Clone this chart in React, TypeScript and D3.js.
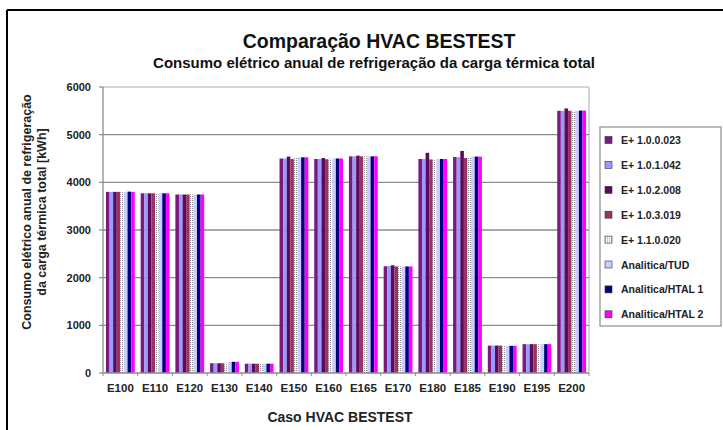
import React from "react";
import * as d3 from "d3";

const categories = ["E100","E110","E120","E130","E140","E150","E160","E165","E170","E180","E185","E190","E195","E200"];
const seriesNames = ["E+ 1.0.0.023","E+ 1.0.1.042","E+ 1.0.2.008","E+ 1.0.3.019","E+ 1.1.0.020","Analitica/TUD","Analitica/HTAL 1","Analitica/HTAL 2"];
const seriesColors = ["#7a1a7a","#9999ff","#5c0a5c","#993366","pattern","#ccccff","#000080","#ff00ff"];
const s1 = [3800,3770,3745,205,195,4500,4490,4545,2240,4490,4530,575,605,5500];
const s2 = [3800,3770,3745,205,195,4500,4490,4545,2245,4490,4530,575,605,5500];
const s3 = [3800,3770,3745,205,195,4540,4510,4560,2260,4620,4660,575,605,5550];
const s4 = [3800,3770,3745,205,195,4490,4485,4545,2235,4480,4510,575,605,5500];
const s5 = [3800,3770,3745,215,195,4520,4500,4545,2235,4490,4530,570,605,5500];
const s6 = [3795,3770,3745,235,195,4525,4500,4545,2235,4490,4540,570,605,5500];
const s7 = [3805,3770,3745,235,195,4525,4500,4545,2235,4490,4540,570,605,5505];
const s8 = [3800,3770,3745,235,195,4525,4500,4545,2235,4490,4540,570,605,5505];
const seriesValues = [s1,s2,s3,s4,s5,s6,s7,s8];
const yTicks = [0,1000,2000,3000,4000,5000,6000];

const FONT = "'Liberation Sans', Arial, sans-serif";

export default function App() {
  const W = 723, H = 430;
  const left = 103, right = 589, top = 87, bottom = 373;
  const x = d3.scaleBand<string>().domain(categories).range([left, right]).paddingInner(0.17).paddingOuter(0.085);
  const xs = d3.scaleBand<number>().domain(d3.range(seriesNames.length)).range([0, x.bandwidth()]);
  const y = d3.scaleLinear().domain([0, 6000]).range([bottom, top]);
  const fill = (i: number) => (seriesColors[i] === "pattern" ? "url(#dots)" : seriesColors[i]);

  return (
    <svg width={W} height={H} style={{ position: "absolute", left: 0, top: 0, background: "#fff" }}>
      <defs>
        <pattern id="dots" width="2" height="2" patternUnits="userSpaceOnUse">
          <rect width="2" height="2" fill="#ffffff" />
          <rect width="1" height="1" fill="#8a8a8a" />
        </pattern>
      </defs>
      <rect x={0} y={0} width={W} height={H} fill="#fff" />
      {/* outer frame */}
      <line x1={7} x2={W} y1={10} y2={10} stroke="#000" strokeWidth={2} />
      <line x1={7} x2={7} y1={10} y2={H} stroke="#000" strokeWidth={2} />

      {/* titles */}
      <text x={379} y={48} textAnchor="middle" fontFamily={FONT} fontWeight="bold" fontSize={19.5} fill="#111">Comparação HVAC BESTEST</text>
      <text x={374} y={68} textAnchor="middle" fontFamily={FONT} fontWeight="bold" fontSize={15} fill="#111">Consumo elétrico anual de refrigeração da carga térmica total</text>

      {/* plot frame */}
      <line x1={left} x2={right} y1={top} y2={top} stroke="#c8c8c8" strokeWidth={1.5} />
      <line x1={right} x2={right} y1={top} y2={bottom} stroke="#c8c8c8" strokeWidth={1.5} />
      {yTicks.filter(t => t > 0 && t < 6000).map(t => (
        <line key={t} x1={left} x2={right} y1={y(t)} y2={y(t)} stroke="#8c8c8c" strokeWidth={1.3} />
      ))}

      {/* bars */}
      {categories.map((c, ci) => (
        <g key={c}>
          {seriesValues.map((vals, si) => (
            <rect key={si} x={(x(c) as number) + (xs(si) as number)} y={y(vals[ci])} width={xs.bandwidth()} height={bottom - y(vals[ci])} fill={fill(si)} />
          ))}
        </g>
      ))}

      {/* axes */}
      <line x1={left} x2={left} y1={top} y2={bottom} stroke="#8c8c8c" strokeWidth={1.3} />
      <line x1={left} x2={right} y1={bottom} y2={bottom} stroke="#8c8c8c" strokeWidth={1.3} />
      {yTicks.map(t => (
        <g key={t}>
          <line x1={left - 4} x2={left} y1={y(t)} y2={y(t)} stroke="#8c8c8c" strokeWidth={1.2} />
          <text x={91} y={y(t) + 4} textAnchor="end" fontFamily={FONT} fontWeight="bold" fontSize={11} fill="#222">{t}</text>
        </g>
      ))}
      {categories.map((c, ci) => (
        <g key={c}>
          <line x1={left + ci * x.step()} x2={left + ci * x.step()} y1={bottom} y2={bottom + 3} stroke="#8c8c8c" />
          <text x={(x(c) as number) + x.bandwidth() / 2} y={392} textAnchor="middle" fontFamily={FONT} fontWeight="bold" fontSize={11.5} fill="#222">{c}</text>
        </g>
      ))}
      <line x1={right} x2={right} y1={bottom} y2={bottom + 3} stroke="#8c8c8c" />

      {/* axis titles */}
      <text x={340} y={422} textAnchor="middle" fontFamily={FONT} fontWeight="bold" fontSize={14} fill="#222">Caso HVAC BESTEST</text>
      <g transform="translate(31,212) rotate(-90)">
        <text x={0} y={0} textAnchor="middle" fontFamily={FONT} fontWeight="bold" fontSize={12.5} fill="#222">Consumo elétrico anual de refrigeração</text>
        <text x={0} y={15} textAnchor="middle" fontFamily={FONT} fontWeight="bold" fontSize={12.5} fill="#222">da carga térmica total [kWh]</text>
      </g>

      {/* legend */}
      <rect x={600} y={127} width={121} height={199} fill="#fff" stroke="#8c8c8c" strokeWidth={1.2} />
      {seriesNames.map((n, i) => (
        <g key={n} transform={`translate(605,${140 + i * 24.9})`}>
          <rect x={0} y={-3.5} width={7} height={7} fill={fill(i)} stroke="#333" strokeWidth={0.6} />
          <text x={16} y={4} fontFamily={FONT} fontWeight="bold" fontSize={10.5} fill="#222">{n}</text>
        </g>
      ))}
    </svg>
  );
}
